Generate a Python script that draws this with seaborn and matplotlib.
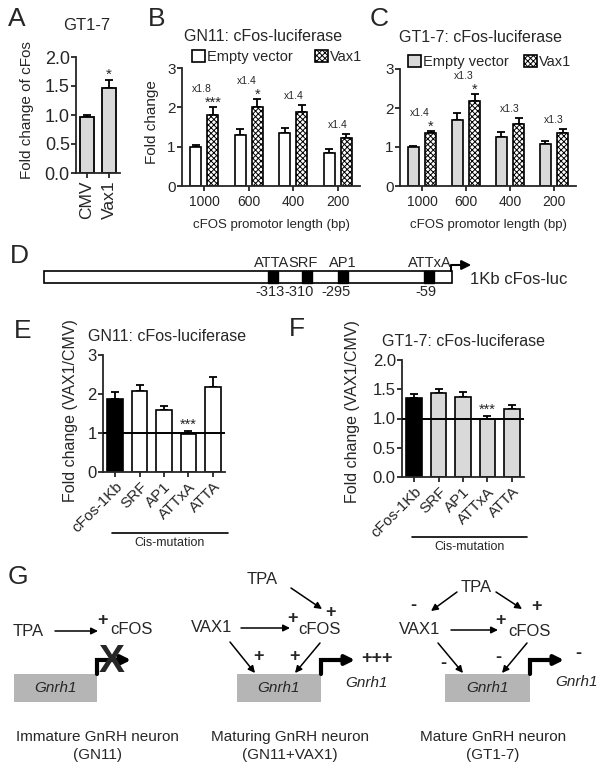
import numpy as np
import pandas as pd
import matplotlib.pyplot as plt
import seaborn as sns
from matplotlib.patches import Patch, Rectangle

# ---- data ----
a_groups = ['CMV', 'Vax1']
a_mean = [0.97, 1.46]
a_err = [0.03, 0.15]
a_sig = ['', '*']

lengths = ['1000', '600', '400', '200']
b_empty = [1.00, 1.30, 1.36, 0.83]
b_empty_err = [0.04, 0.14, 0.11, 0.10]
b_vax = [1.80, 2.02, 1.88, 1.21]
b_vax_err = [0.22, 0.19, 0.18, 0.11]
b_fold = ['x1.8', 'x1.4', 'x1.4', 'x1.4']
b_sig = ['***', '*', '', '']

c_empty = [1.00, 1.70, 1.25, 1.07]
c_empty_err = [0.02, 0.17, 0.14, 0.09]
c_vax = [1.37, 2.17, 1.59, 1.35]
c_vax_err = [0.05, 0.20, 0.15, 0.10]
c_fold = ['x1.4', 'x1.3', 'x1.3', 'x1.3']
c_sig = ['*', '*', '', '']

constructs = ['cFos-1Kb', 'SRF', 'AP1', 'ATTxA', 'ATTA']
e_mean = [1.87, 2.08, 1.59, 0.97, 2.18]
e_err = [0.18, 0.15, 0.10, 0.08, 0.26]
f_mean = [1.35, 1.44, 1.37, 0.99, 1.16]
f_err = [0.07, 0.06, 0.08, 0.05, 0.07]
ef_sig = ['', '', '', '***', '']

sites = ['ATTA', 'SRF', 'AP1', 'ATTxA']
site_pos = ['-313', '-310', '-295', '-59']

vectors = ['Empty vector', 'Vax1']
LIGHT = '#d9d9d9'
HATCH = 'xxxxxx'

sns.set_style('ticks')
plt.rcParams['font.family'] = ['Liberation Sans', 'DejaVu Sans']
plt.rcParams['axes.linewidth'] = 1.3
plt.rcParams['xtick.major.width'] = 1.3
plt.rcParams['ytick.major.width'] = 1.3
plt.rcParams['xtick.major.size'] = 3.5
plt.rcParams['ytick.major.size'] = 3.5
plt.rcParams['hatch.linewidth'] = 0.7

W, H = 604, 772
fig = plt.figure(figsize=(W / 100, H / 100), dpi=100)

# overlay in pixel coordinates for the schematic parts
ov = fig.add_axes([0, 0, 1, 1])
ov.set_xlim(0, W)
ov.set_ylim(H, 0)
ov.axis('off')


def px_axes(left, top, right, bottom):
    ax = fig.add_axes([left / W, 1 - bottom / H, (right - left) / W, (bottom - top) / H])
    ax.set_facecolor('none')
    return ax


def ftext(x, y, s, **kw):
    kw.setdefault('ha', 'center')
    kw.setdefault('va', 'center')
    return fig.text(x / W, 1 - y / H, s, **kw)


def add_errors(ax, bars, errs):
    xs = [p.get_x() + p.get_width() / 2 for p in bars]
    ys = [p.get_height() for p in bars]
    ax.errorbar(xs, ys, yerr=[np.zeros(len(errs)), errs], fmt='none', ecolor='black',
                elinewidth=1.3, capsize=3, capthick=1.3, zorder=1)
    return xs, ys


# ---------------- A ----------------
axA = px_axes(76, 57, 120, 173)
dfA = pd.DataFrame({'group': a_groups, 'fold': a_mean})
sns.barplot(data=dfA, x='group', y='fold', color=LIGHT, edgecolor='black', linewidth=1.3,
            width=0.68, errorbar=None, ax=axA, zorder=2)
xs, ys = add_errors(axA, axA.containers[0], a_err)
for x, y, e, s in zip(xs, ys, a_err, a_sig):
    if s:
        axA.text(x, y + e + 0.02, s, ha='center', va='baseline', fontsize=11)
axA.set_ylim(0, 2.0)
axA.set_xlim(-0.5, 1.5)
axA.set_yticks([0, 0.5, 1.0, 1.5, 2.0])
axA.set_yticklabels(['0.0', '0.5', '1.0', '1.5', '2.0'])
axA.tick_params(axis='y', labelsize=13, pad=1)
axA.tick_params(axis='x', labelsize=12.5, rotation=90, pad=2)
axA.set_xlabel('')
axA.set_ylabel('')
sns.despine(ax=axA)
axA.text(0.25, 1.27, 'GT1-7', transform=axA.transAxes, ha='center', va='center', fontsize=12)
ftext(27, 110, 'Fold change of cFos', rotation=90, fontsize=11)


# ---------------- B / C ----------------
def promoter_panel(box, empty, empty_err, vax, vax_err, fold, sig, empty_color, title,
                   title_pos, legend_pos, colspace, ylabel):
    ax = px_axes(*box)
    df = pd.DataFrame({'length': lengths * 2,
                       'vector': [vectors[0]] * 4 + [vectors[1]] * 4,
                       'fold': empty + vax})
    sns.barplot(data=df, x='length', y='fold', hue='vector', order=lengths, hue_order=vectors,
                palette=[empty_color, 'white'], edgecolor='black', linewidth=1.2,
                width=0.78, gap=0.36, errorbar=None, legend=False, ax=ax, zorder=2)
    for p in ax.containers[1]:
        p.set_hatch(HATCH)
    add_errors(ax, ax.containers[0], empty_err)
    xs, ys = add_errors(ax, ax.containers[1], vax_err)
    for i in range(len(lengths)):
        top = max(empty[i] + empty_err[i], vax[i] + vax_err[i])
        if sig[i]:
            ax.text(xs[i], top + 0.0, sig[i], ha='center', va='baseline', fontsize=10.5)
            ax.text(i - 0.05, top + 0.38, fold[i], ha='center', va='baseline', fontsize=7.5)
        else:
            ax.text(i, top + 0.16, fold[i], ha='center', va='baseline', fontsize=7.5)
    ax.set_ylim(0, 3)
    ax.set_xlim(-0.5, 3.5)
    ax.set_yticks([0, 1, 2, 3])
    ax.tick_params(axis='y', labelsize=11, pad=1)
    ax.tick_params(axis='x', labelsize=10, pad=3)
    ax.set_xlabel('cFOS promotor length (bp)', fontsize=9.5, labelpad=7)
    ax.set_ylabel('')
    sns.despine(ax=ax)
    ax.text(title_pos[0], title_pos[1], title, transform=ax.transAxes, ha='center',
            va='center', fontsize=11.5)
    handles = [Patch(facecolor=empty_color, edgecolor='black', linewidth=1.2),
               Patch(facecolor='white', edgecolor='black', linewidth=1.2, hatch=HATCH)]
    ax.legend(handles, vectors, ncol=2, frameon=False, loc='center left',
              bbox_to_anchor=legend_pos, handlelength=0.9, handleheight=0.9,
              handletextpad=0.15, columnspacing=colspace, borderpad=0, borderaxespad=0,
              fontsize=10.5)
    if ylabel:
        ftext(152, 122, ylabel, rotation=90, fontsize=11)
    return ax


promoter_panel((182, 68, 360, 186), b_empty, b_empty_err, b_vax, b_vax_err, b_fold, b_sig,
               'white', 'GN11: cFos-luciferase', (0.455, 1.265), (0.056, 1.095), 1.5,
               'Fold change')
promoter_panel((400, 69, 576, 186), c_empty, c_empty_err, c_vax, c_vax_err, c_fold, c_sig,
               LIGHT, 'GT1-7: cFos-luciferase', (0.455, 1.265), (0.045, 1.06), 1.0, None)


# ---------------- E / F ----------------
def mutation_panel(box, mean, err, rest_color, ylim, yticks, yticklabels, title, title_pos):
    ax = px_axes(*box)
    df = pd.DataFrame({'construct': constructs, 'fold': mean})
    sns.barplot(data=df, x='construct', y='fold', hue='construct', order=constructs,
                palette=['black'] + [rest_color] * 4, edgecolor='black', linewidth=1.2,
                width=0.64, errorbar=None, legend=False, ax=ax, zorder=2)
    bars = [c[0] for c in ax.containers]
    xs, ys = add_errors(ax, bars, err)
    ax.axhline(1, color='black', lw=1.4, zorder=3)
    for x, y, e, s in zip(xs, ys, err, ef_sig):
        if s:
            ax.text(x, y + e + 0.02 * ylim, s, ha='center', va='baseline', fontsize=10.5)
    ax.set_ylim(0, ylim)
    ax.set_xlim(-0.5, 4.5)
    ax.set_yticks(yticks)
    ax.set_yticklabels(yticklabels)
    ax.tick_params(axis='y', labelsize=12, pad=1)
    ax.tick_params(axis='x', labelsize=11, pad=2)
    plt.setp(ax.get_xticklabels(), rotation=45, ha='right', rotation_mode='anchor')
    ax.set_xlabel('')
    ax.set_ylabel('')
    sns.despine(ax=ax)
    ax.text(title_pos[0], title_pos[1], title, transform=ax.transAxes, ha='center',
            va='center', fontsize=11.5)
    return ax


mutation_panel((103, 355, 225, 472), e_mean, e_err, 'white', 3, [0, 1, 2, 3],
               ['0', '1', '2', '3'], 'GN11: cFos-luciferase', (0.525, 1.155))
mutation_panel((402, 360, 524, 477), f_mean, f_err, LIGHT, 2.0, [0, 0.5, 1.0, 1.5, 2.0],
               ['0.0', '0.5', '1.0', '1.5', '2.0'], 'GT1-7: cFos-luciferase', (0.5, 1.155))
ftext(70, 411, 'Fold change (VAX1/CMV)', rotation=90, fontsize=11.5)
ftext(353, 412, 'Fold change (VAX1/CMV)', rotation=90, fontsize=11.5)

for x0, x1, y in [(112, 228, 533), (412, 527, 537)]:
    ov.plot([x0, x1], [y, y], color='black', lw=1.2)
    ov.text((x0 + x1) / 2, y + 10, 'Cis-mutation', ha='center', va='center', fontsize=9)

# ---------------- D schematic ----------------
ov.add_patch(Rectangle((44, 271), 408, 12, facecolor='white', edgecolor='black', lw=1.2))
for name, num, xc, xl, xn in zip(sites, site_pos, [273, 307, 343, 429],
                                 [272, 303, 343, 430], [270, 299, 336, 426]):
    ov.add_patch(Rectangle((xc - 5, 271), 10, 12, facecolor='black', edgecolor='black', lw=1))
    ov.text(xl, 263, name, ha='center', va='center', fontsize=10.5)
    ov.text(xn, 292, num, ha='center', va='center', fontsize=10.5)
ov.plot([451, 451, 462], [271, 265, 265], color='black', lw=1.5)
ov.annotate('', xy=(474, 265), xytext=(458, 265),
            arrowprops=dict(arrowstyle='-|>', color='black', lw=1.5, mutation_scale=14))
ov.text(470, 280, '1Kb cFos-luc', ha='left', va='center', fontsize=12)


# ---------------- G schematic ----------------
def arrow(p0, p1):
    ov.annotate('', xy=p1, xytext=p0,
                arrowprops=dict(arrowstyle='-|>', color='black', lw=1.1, mutation_scale=10,
                                shrinkA=0, shrinkB=0))


def sign(x, y, s):
    ov.text(x, y, s, ha='center', va='center', fontsize=13, fontweight='bold')


def gene(x0, x1):
    ov.add_patch(Rectangle((x0, 674), x1 - x0, 28, facecolor='#b5b5b5', edgecolor='none'))
    ov.text((x0 + x1) / 2, 688, 'Gnrh1', ha='center', va='center', fontsize=11,
            fontstyle='italic')
    ov.plot([x1, x1, x1 + 22], [674, 660, 660], color='black', lw=3, solid_joinstyle='miter')
    ov.annotate('', xy=(x1 + 34, 660), xytext=(x1 + 18, 660),
                arrowprops=dict(arrowstyle='-|>', color='black', lw=3, mutation_scale=14,
                                shrinkA=0, shrinkB=0))


# immature
ov.text(28, 632, 'TPA', ha='center', va='center', fontsize=12)
arrow((55, 631), (98, 631))
sign(103, 621, '+')
ov.text(131, 630, 'cFOS', ha='center', va='center', fontsize=12)
gene(14, 97)
ov.text(112, 662, 'X', ha='center', va='center', fontsize=28, fontweight='bold')

# maturing
ov.text(262, 580, 'TPA', ha='center', va='center', fontsize=12)
arrow((291, 588), (322, 609))
sign(331, 612, '+')
ov.text(212, 628, 'VAX1', ha='center', va='center', fontsize=12)
arrow((241, 628), (290, 628))
sign(293, 618, '+')
ov.text(319, 630, 'cFOS', ha='center', va='center', fontsize=12)
arrow((230, 642), (255, 673))
sign(258, 657, '+')
arrow((320, 643), (295, 673))
sign(294, 657, '+')
gene(237, 321)
sign(377, 658, '+++')
ov.text(367, 683, 'Gnrh1', ha='center', va='center', fontsize=11, fontstyle='italic')

# mature
ov.text(476, 587, 'TPA', ha='center', va='center', fontsize=12)
arrow((457, 592), (431, 611))
sign(413, 606, '-')
arrow((496, 592), (522, 609))
sign(537, 607, '+')
ov.text(420, 630, 'VAX1', ha='center', va='center', fontsize=12)
arrow((451, 630), (498, 630))
sign(500, 620, '+')
ov.text(529, 631, 'cFOS', ha='center', va='center', fontsize=12)
arrow((438, 643), (463, 673))
sign(443, 664, '-')
arrow((527, 643), (502, 673))
sign(498, 657, '-')
gene(445, 530)
sign(578, 654, '-')
ov.text(577, 682, 'Gnrh1', ha='center', va='center', fontsize=11, fontstyle='italic')

for xc, l1, l2 in [(97, 'Immature GnRH neuron', '(GN11)'),
                   (290, 'Maturing GnRH neuron', '(GN11+VAX1)'),
                   (493, 'Mature GnRH neuron', '(GT1-7)')]:
    ov.text(xc, 737, l1, ha='center', va='center', fontsize=11)
    ov.text(xc, 755, l2, ha='center', va='center', fontsize=11)

# panel letters
for letter, x, y in [('A', 17, 19), ('B', 157, 19), ('C', 379, 19), ('D', 19, 256),
                     ('E', 23, 331), ('F', 297, 329), ('G', 18, 577)]:
    ftext(x, y, letter, fontsize=19)

fig.savefig('out.png', dpi=100)
